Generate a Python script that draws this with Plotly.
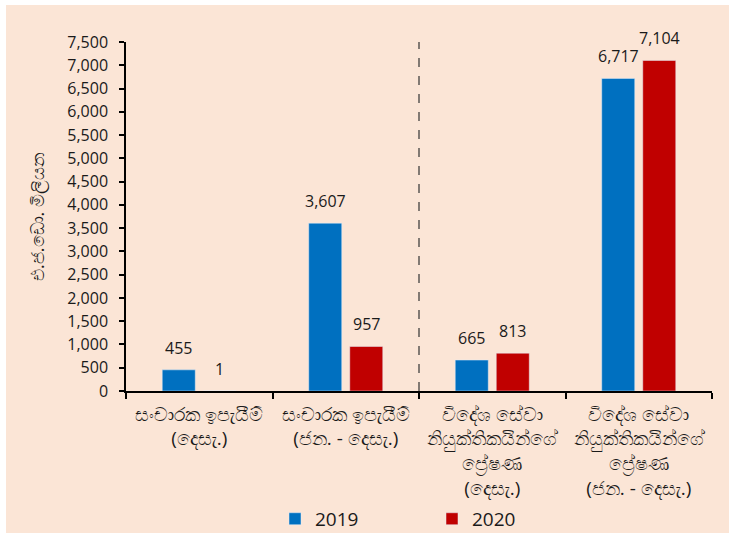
import plotly.graph_objects as go

categories = [
    "සංචාරක ඉපැයීම්<br>(දෙසැ.)",
    "සංචාරක ඉපැයීම්<br>(ජන. - දෙසැ.)",
    "විදේශ සේවා<br>නියුක්තිකයින්ගේ<br>ප්‍රේෂණ<br>(දෙසැ.)",
    "විදේශ සේවා<br>නියුක්තිකයින්ගේ<br>ප්‍රේෂණ<br>(ජන. - දෙසැ.)",
]
values_2019 = [455, 3607, 665, 6717]
values_2020 = [1, 957, 813, 7104]
series_names = ["2019", "2020"]
y_title = "එ.ජ.ඩො. මිලියන"

font_family = "Open Sans, Noto Sans, DejaVu Sans, sans-serif"
text_color = "#1a1a1a"
peach = "#FBE5D6"
colors = ["#0070C0", "#C00000"]

fig = go.Figure()
for name, vals, col in zip(series_names, [values_2019, values_2020], colors):
    fig.add_trace(go.Bar(x=categories, y=vals, name=name, marker=dict(color=col)))

# value labels above bars
annotations = []
for vals, shift in zip([values_2019, values_2020], [-20.5, 20.5]):
    for c, v in zip(categories, vals):
        annotations.append(dict(
            x=c, y=v, xref="x", yref="y", text=f"{v:,}", showarrow=False,
            xanchor="center", yanchor="bottom", xshift=shift, yshift=9,
            font=dict(size=16, color=text_color, family=font_family),
        ))

W, H = 736, 533
ml, mr, mt, mb = 126, 24, 42, 142
pw, ph = W - ml - mr, H - mt - mb

fig.update_layout(
    width=W, height=H,
    margin=dict(l=ml, r=mr, t=mt, b=mb, pad=0, autoexpand=False),
    paper_bgcolor="white", plot_bgcolor="rgba(0,0,0,0)",
    font=dict(family=font_family, size=14, color=text_color),
    barmode="group", bargap=0.44, bargroupgap=0.195,
    showlegend=True,
    legend=dict(orientation="h", x=(275 - ml) / pw, xanchor="left", y=-0.312, yanchor="top",
                font=dict(size=19, color=text_color), entrywidth=112,
                itemwidth=30, bgcolor="rgba(0,0,0,0)"),
    xaxis=dict(
        automargin=False,
        showline=True, linecolor="black", linewidth=1.5,
        ticks="outside", tickson="boundaries", ticklen=6, tickcolor="black", tickwidth=1.5,
        tickfont=dict(size=19, color=text_color), showgrid=False, ticklabelstandoff=5,
    ),
    yaxis=dict(
        automargin=False,
        range=[0, 7500], dtick=500, tickformat=",",
        showline=True, linecolor="black", linewidth=1.5,
        ticks="outside", ticklen=5, tickcolor="black", tickwidth=1.5,
        tickfont=dict(size=16, color=text_color), showgrid=False, zeroline=False,
        ticklabelstandoff=8,
        title=dict(text=y_title, font=dict(size=18, color=text_color), standoff=18),
    ),
    annotations=annotations,
    shapes=[
        dict(type="rect", xref="paper", yref="paper",
             x0=(6 - ml) / pw, x1=(729 - ml) / pw, y0=-(mb) / ph, y1=1 + (mt - 5) / ph,
             line=dict(width=0), fillcolor=peach, layer="below"),
        dict(type="line", xref="x", yref="paper", x0=1.5, x1=1.5, y0=0, y1=1,
             line=dict(color="#333333", width=1.2, dash="dash")),
    ],
)

fig.write_html("out.html", config={"displayModeBar": False},
               post_script="document.body.style.margin='0';")
